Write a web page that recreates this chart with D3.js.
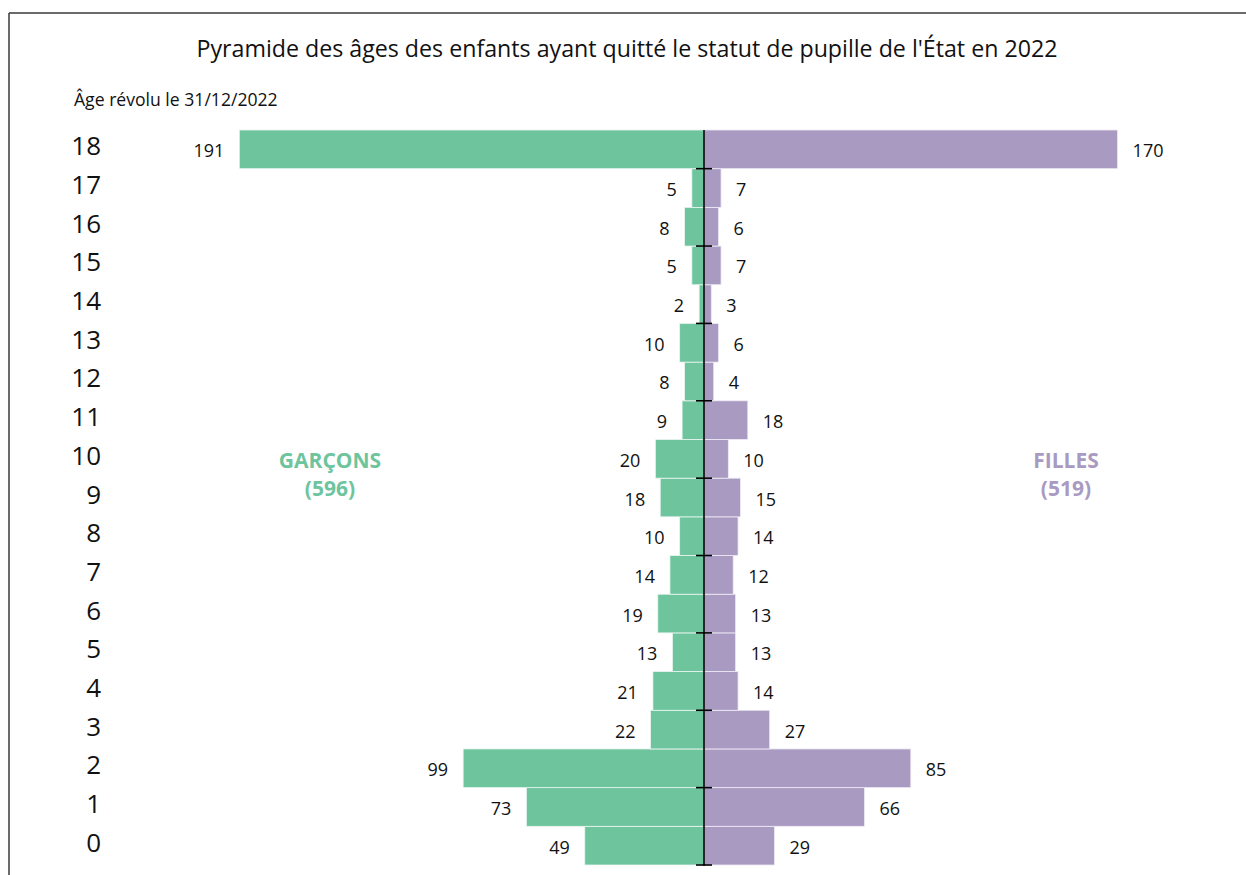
<!DOCTYPE html>
<html><head><meta charset="utf-8">
<script src="https://cdn.jsdelivr.net/npm/d3@7"></script>
<style>body{margin:0;background:#fff}svg{display:block}text{font-family:"Open Sans",sans-serif}</style>
</head><body><svg id="c" width="1246" height="875"></svg>
<script>
const ages = [0,1,2,3,4,5,6,7,8,9,10,11,12,13,14,15,16,17,18];
const boys = [49,73,99,22,21,13,19,14,10,18,20,9,8,10,2,5,8,5,191];
const girls = [29,66,85,27,14,13,13,12,14,15,10,18,4,6,3,7,6,7,170];
const title = "Pyramide des âges des enfants ayant quitté le statut de pupille de l'État en 2022";
const subtitle = "Âge révolu le 31/12/2022";
const boysLabel = ["GARÇONS", "(596)"];
const girlsLabel = ["FILLES", "(519)"];

const green = "#6dc49d", purple = "#a99ac2";
const svg = d3.select("#c");
const cx = 704;
const y = d3.scaleBand().domain(ages.slice().reverse()).range([130, 865]).padding(0);
const x = d3.scaleLinear().domain([0, 200]).range([0, 486.6]);

// frame
svg.append("line").attr("x1",9).attr("x2",1246).attr("y1",13).attr("y2",13).attr("stroke","#3a3a3a").attr("stroke-width",1.5);
svg.append("line").attr("x1",9).attr("x2",9).attr("y1",13).attr("y2",875).attr("stroke","#3a3a3a").attr("stroke-width",1.5);

svg.append("text").attr("x",627).attr("y",57).attr("text-anchor","middle").attr("font-size",23.2).attr("fill","#111").text(title);
svg.append("text").attr("x",74).attr("y",106).attr("font-size",17.6).attr("fill","#111").text(subtitle);

const data = ages.map((a,i)=>({age:a, b:boys[i], g:girls[i]}));

svg.append("g").selectAll("rect").data(data).join("rect")
  .attr("x", d=>cx - x(d.b)).attr("y", d=>y(d.age)).attr("width", d=>x(d.b)).attr("height", y.bandwidth())
  .attr("fill", green).attr("stroke","#eaf6f0").attr("stroke-width",0.8);
svg.append("g").selectAll("rect").data(data).join("rect")
  .attr("x", cx).attr("y", d=>y(d.age)).attr("width", d=>x(d.g)).attr("height", y.bandwidth())
  .attr("fill", purple).attr("stroke","#efebf5").attr("stroke-width",0.8);

// value labels
svg.append("g").selectAll("text").data(data).join("text")
  .attr("x", d=>cx - x(d.b) - 15).attr("y", d=>y(d.age)+y.bandwidth()/2+8)
  .attr("text-anchor","end").attr("font-size",18).attr("fill","#111").text(d=>d.b);
svg.append("g").selectAll("text").data(data).join("text")
  .attr("x", d=>cx + x(d.g) + 15).attr("y", d=>y(d.age)+y.bandwidth()/2+8)
  .attr("text-anchor","start").attr("font-size",18).attr("fill","#111").text(d=>d.g);

// age labels
svg.append("g").selectAll("text").data(data).join("text")
  .attr("x", 101).attr("y", d=>y(d.age)+y.bandwidth()/2+6)
  .attr("text-anchor","end").attr("font-size",26).attr("fill","#111").text(d=>d.age);

// axis
svg.append("line").attr("x1",cx).attr("x2",cx).attr("y1",130).attr("y2",866).attr("stroke","#000").attr("stroke-width",1.6);
const tickAges = ages.filter(a=>a%2===0);
svg.append("g").selectAll("line").data(tickAges).join("line")
  .attr("x1",cx-8).attr("x2",cx+8)
  .attr("y1",d=>y(d)+y.bandwidth()).attr("y2",d=>y(d)+y.bandwidth())
  .attr("stroke","#000").attr("stroke-width",1.6);

// group labels
svg.append("g").selectAll("text").data(boysLabel).join("text")
  .attr("x",330).attr("y",(d,i)=>468+i*28).attr("text-anchor","middle")
  .attr("font-size",21).attr("font-weight","bold").attr("fill",green).text(d=>d);
svg.append("g").selectAll("text").data(girlsLabel).join("text")
  .attr("x",1066).attr("y",(d,i)=>468+i*28).attr("text-anchor","middle")
  .attr("font-size",21).attr("font-weight","bold").attr("fill",purple).text(d=>d);
</script></body></html>
